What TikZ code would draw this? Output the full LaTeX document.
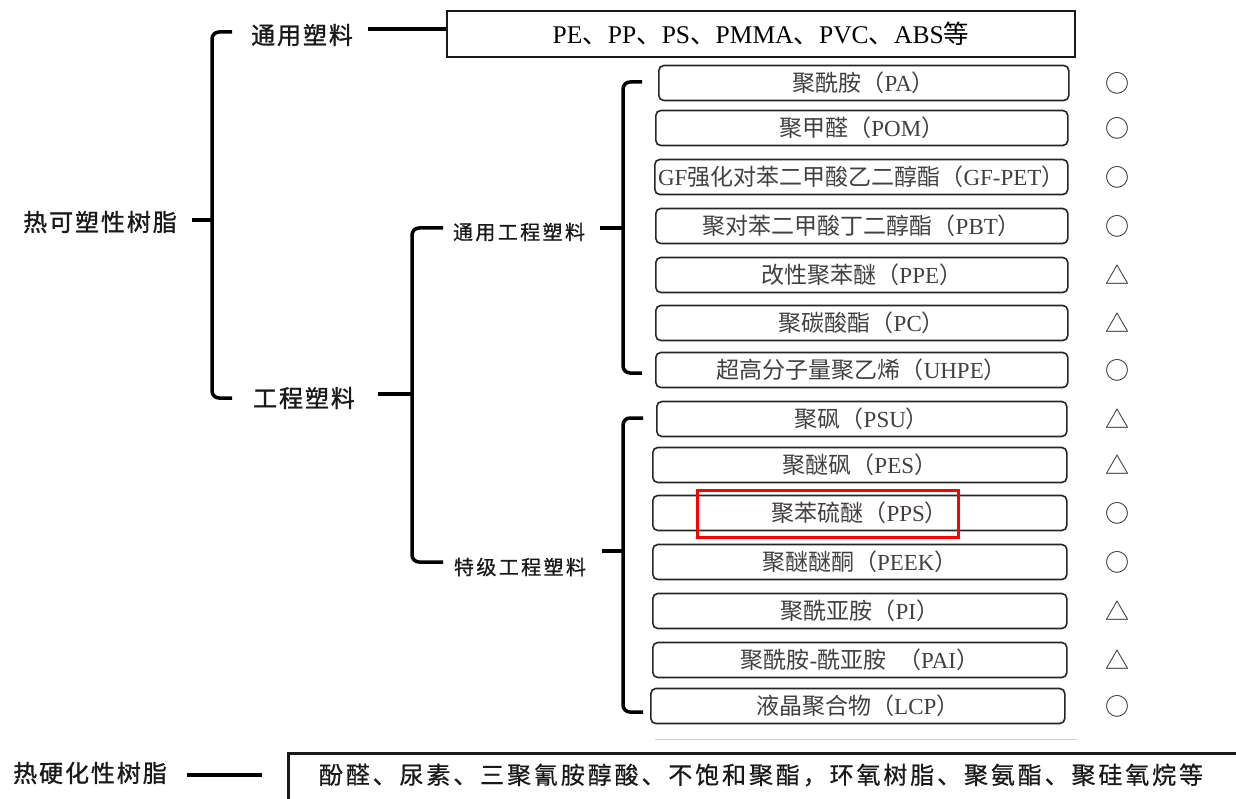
\documentclass[tikz,border=0pt]{standalone}
\usepackage{fontspec}
\setmainfont{Liberation Serif}
\newfontfamily\cjk{Noto Sans CJK SC}
\newfontfamily\cjkl[LetterSpace=8,FakeBold=1.2]{Noto Sans CJK SC}
\newfontfamily\cjks[LetterSpace=12,FakeBold=0.8]{Noto Sans CJK SC}
\newfontfamily\cjkw[LetterSpace=12,FakeBold=0.6]{Noto Sans CJK SC}
\newcommand\zh[1]{{\cjk #1}}
\begin{document}
\begin{tikzpicture}[x=1pt,y=-1pt,
  lab/.style={font=\cjkl\fontsize{24}{24}\selectfont, text=black!90, inner sep=0},
  sublab/.style={font=\cjks\fontsize{20}{20}\selectfont, text=black!90, inner sep=0},
  pbox/.style={draw=black!85, line width=1.6pt, rounded corners=5pt, minimum height=35pt,
    text=black!75, font=\fontsize{23}{23}\selectfont, inner sep=0, anchor=west},
  brace/.style={line width=3.5pt, rounded corners=7pt},
  tick/.style={line width=3.5pt},
  symb/.style={font=\cjk\fontsize{24}{24}\selectfont, text=black!85, inner sep=0},
  bigbox/.style={draw=black!90, line width=2.6pt, inner sep=0},
]
\useasboundingbox (0,0) rectangle (1236,799);
\clip (0,0) rectangle (1236,799);

% left labels
\node[lab] (L0) at (100,222) {热可塑性树脂};
\node[lab] (G1) at (302,35) {通用塑料};
\node[lab] (G2) at (304,398) {工程塑料};
\node[sublab] (S1) at (519,232) {通用工程塑料};
\node[sublab] (S2) at (520,567) {特级工程塑料};

% top box
\node[bigbox, minimum width=628pt, minimum height=46pt, font=\fontsize{25.5}{25.5}\selectfont]
  (TB) at (761,34) {PE\zh{、}PP\zh{、}PS\zh{、}PMMA\zh{、}PVC\zh{、}ABS\zh{等}};
\coordinate (c1) at (368,29);
\draw[tick] (c1) -- (c1 -| TB.west);

% brace 1
\coordinate (b1t) at (232,32);
\coordinate (b1b) at (232,398);
\coordinate (b1m) at (212,220);
\draw[brace] (b1t) -- (b1t -| b1m) -- (b1b -| b1m) -- (b1b);
\draw[tick] (192,220) -- (b1m);

% brace 2
\coordinate (b2t) at (443,228);
\coordinate (b2b) at (443,562);
\coordinate (b2m) at (412,394);
\draw[brace] (b2t) -- (b2t -| b2m) -- (b2b -| b2m) -- (b2b);
\draw[tick] (378,394) -- (b2m);

% brace 3
\coordinate (b3t) at (642,82);
\coordinate (b3b) at (642,373);
\coordinate (b3m) at (623,228);
\draw[brace] (b3t) -- (b3t -| b3m) -- (b3b -| b3m) -- (b3b);
\draw[tick] (600,228) -- (b3m);

% brace 4
\coordinate (b4t) at (643,418);
\coordinate (b4b) at (643,712);
\coordinate (b4m) at (623,551);
\draw[brace] (b4t) -- (b4t -| b4m) -- (b4b -| b4m) -- (b4b);
\draw[tick] (602,551) -- (b4m);

% boxes
\node[pbox, minimum width=410pt] (p1) at (658,83) {\zh{聚酰胺（}PA\zh{）}};
\node[pbox, minimum width=412pt] (p2) at (655,128) {\zh{聚甲醛（}POM\zh{）}};
\node[pbox, minimum width=413pt] (p3) at (654,177) {GF\zh{强化对苯二甲酸乙二醇酯（}GF-PET\zh{）}};
\node[pbox, minimum width=412pt] (p4) at (655,226) {\zh{聚对苯二甲酸丁二醇酯（}PBT\zh{）}};
\node[pbox, minimum width=412pt] (p5) at (655,275) {\zh{改性聚苯醚（}PPE\zh{）}};
\node[pbox, minimum width=412pt] (p6) at (655,323) {\zh{聚碳酸酯（}PC\zh{）}};
\node[pbox, minimum width=412pt] (p7) at (655,370) {\zh{超高分子量聚乙烯（}UHPE\zh{）}};
\node[pbox, minimum width=410pt] (p8) at (656,419) {\zh{聚砜（}PSU\zh{）}};
\node[pbox, minimum width=414pt] (p9) at (652,465) {\zh{聚醚砜（}PES\zh{）}};
\node[pbox, minimum width=414pt] (p10) at (652,513) {\zh{聚苯硫醚（}PPS\zh{）}};
\node[pbox, minimum width=414pt] (p11) at (652,562) {\zh{聚醚醚酮（}PEEK\zh{）}};
\node[pbox, minimum width=414pt] (p12) at (652,611) {\zh{聚酰亚胺（}PI\zh{）}};
\node[pbox, minimum width=414pt] (p13) at (652,660) {\zh{聚酰胺}-\zh{酰亚胺}\hspace{12pt}\zh{（}PAI\zh{）}};
\node[pbox, minimum width=414pt] (p14) at (650,706) {\zh{液晶聚合物（}LCP\zh{）}};

% highlight
\node[draw=red, line width=3pt, minimum width=261pt, minimum height=47pt, inner sep=0] (hl) at (827.5,513.5) {};

% marks
\foreach \n/\s in {1/○,2/○,3/○,4/○,5/△,6/△,7/○,8/△,9/△,10/○,11/○,12/△,13/△,14/○}
  \node[symb] (m\n) at (1117,0 |- p\n.center) {\s};

% faint line
\draw[black!20, line width=1pt] (655,739) -- (1077,739);

% bottom
\node[lab] (H0) at (90,773) {热硬化性树脂};
\node[bigbox, anchor=north west, minimum width=1000pt, minimum height=80pt] (BB) at (287,752) {};
\node[font=\cjkw\fontsize{24}{24}\selectfont, text=black!90, inner sep=0] (BT) at (761,775) {酚醛、尿素、三聚氰胺醇酸、不饱和聚酯，环氧树脂、聚氨酯、聚硅氧烷等};
\coordinate (c2) at (187,775);
\draw[line width=4pt] (c2) -- (c2 -| 262,0);
\end{tikzpicture}
\end{document}
